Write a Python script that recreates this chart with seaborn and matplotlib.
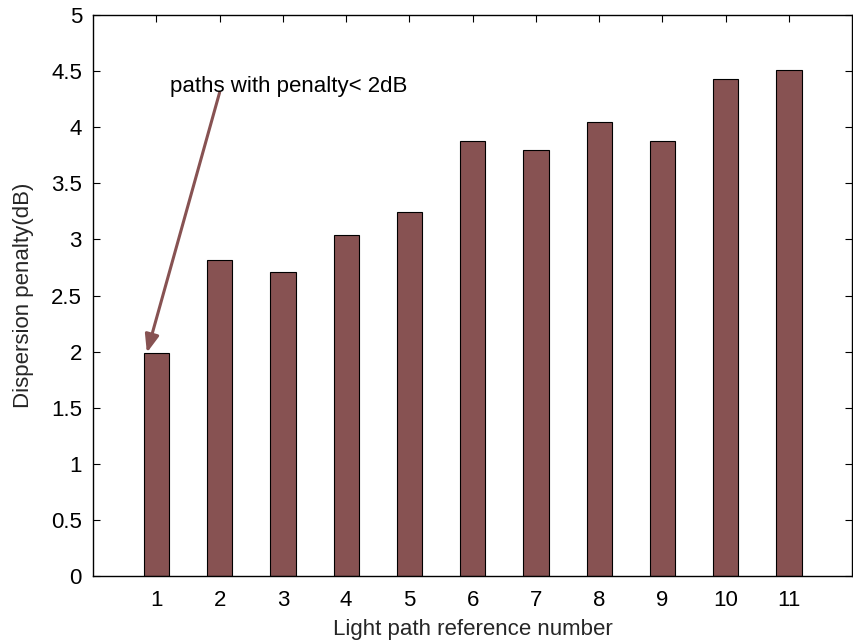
import matplotlib
matplotlib.use("Agg")
import matplotlib.pyplot as plt
import seaborn as sns
import pandas as pd

paths = [1, 2, 3, 4, 5, 6, 7, 8, 9, 10, 11]
penalty = [1.985, 2.82, 2.71, 3.04, 3.24, 3.88, 3.80, 4.05, 3.88, 4.43, 4.51]
yticks = [0, 0.5, 1, 1.5, 2, 2.5, 3, 3.5, 4, 4.5, 5]
ytick_labels = ["0", "0.5", "1", "1.5", "2", "2.5", "3", "3.5", "4", "4.5", "5"]

sns.set_theme(style="white")
plt.rcParams['font.family'] = ['Liberation Sans', 'DejaVu Sans']

df = pd.DataFrame({"path": paths, "penalty": penalty})

fig = plt.figure(figsize=(8.54, 6.42), dpi=100)
ax = fig.add_axes([0.109, 0.1028, 0.889, 0.8738])

bar_color = "#875252"
sns.barplot(data=df, x="path", y="penalty", native_scale=True, width=0.4,
            color=bar_color, saturation=1, edgecolor="black", linewidth=0.8,
            errorbar=None, ax=ax)

fs = 16
ax.set_xlim(0, 12)
ax.set_ylim(0, 5)
ax.set_xticks(paths)
ax.set_xticklabels([str(p) for p in paths], fontsize=fs)
ax.set_yticks(yticks)
ax.set_yticklabels(ytick_labels, fontsize=fs)
ax.tick_params(direction="in", length=5, width=0.8, top=True, right=True,
               bottom=True, left=True, colors="black", pad=8)
ax.tick_params(axis="x", pad=10)
for s in ax.spines.values():
    s.set_visible(True)
    s.set_color("black")
    s.set_linewidth(1.0)

ax.set_xlabel("Light path reference number", fontsize=fs, labelpad=6)
ax.set_ylabel("Dispersion penalty(dB)", fontsize=fs, labelpad=12)

ax.annotate("", xy=(0.85, 1.99), xytext=(2.0, 4.31),
            arrowprops=dict(arrowstyle="-|>,head_length=0.9,head_width=0.35",
                            color=bar_color, lw=2.2, shrinkA=0, shrinkB=0))
ax.text(1.21, 4.36, "paths with penalty< 2dB", fontsize=fs, color="black",
        ha="left", va="center")

fig.savefig("out.png", dpi=100)
